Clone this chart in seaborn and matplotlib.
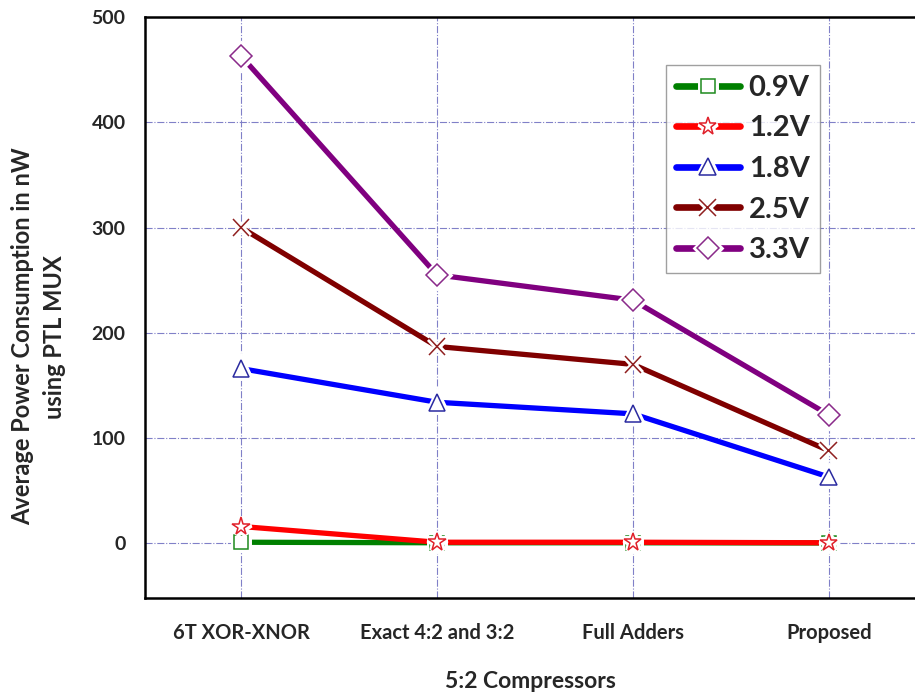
import numpy as np
import pandas as pd
import matplotlib
matplotlib.use('Agg')
import matplotlib.pyplot as plt
import matplotlib.patheffects as pe
from matplotlib.lines import Line2D
from matplotlib.ticker import MultipleLocator
import seaborn as sns

# data
designs = ['6T XOR-XNOR', 'Exact 4:2 and 3:2', 'Full Adders', 'Proposed']
voltages = ['0.9V', '1.2V', '1.8V', '2.5V', '3.3V']
p_09 = [1.0, 0.5, 0.5, 0.3]
p_12 = [16.0, 1.0, 1.0, 0.5]
p_18 = [166.0, 134.0, 123.0, 63.0]
p_25 = [300.0, 187.0, 170.0, 88.0]
p_33 = [463.0, 255.0, 231.0, 122.0]

colors = ['#008000', '#ff0000', '#0000ff', '#800000', '#800080']
edge_colors = ['#1e8a1e', '#e0202a', '#2a2aa0', '#902020', '#8a2a8a']
markers = ['s', '*', '^', 'x', 'D']
msizes = [10, 13, 12, 12, 11]

values = [p_09, p_12, p_18, p_25, p_33]
df = pd.DataFrame({
    'pos': np.tile(np.arange(len(designs)), len(voltages)),
    'power': np.concatenate(values),
    'voltage': np.repeat(voltages, len(designs)),
})

sns.set_style('white')
plt.rcParams['font.family'] = ['Lato', 'DejaVu Sans']

fig = plt.figure(figsize=(9.15, 6.97), dpi=100)
ax = fig.add_axes([0.1585, 0.142, 0.8415, 0.8336])

sns.lineplot(data=df, x='pos', y='power', hue='voltage', hue_order=voltages,
             palette=colors, linewidth=3.8, legend=False, sort=False, ax=ax,
             solid_capstyle='round')

# hollow markers with a white halo so the line stops short of each marker
halo = [pe.withStroke(linewidth=5, foreground='white')]
for i, v in enumerate(voltages):
    sub = df[df['voltage'] == v]
    ax.plot(sub['pos'], sub['power'], linestyle='none', marker=markers[i],
            markersize=msizes[i], markerfacecolor='white',
            markeredgecolor=edge_colors[i], markeredgewidth=1.1,
            path_effects=halo, zorder=5)

ax.set_xlim(-0.49, 3.44)
ax.set_ylim(-52, 500)
ax.set_xticks(np.arange(len(designs)))
ax.set_xticklabels(designs)
ax.xaxis.set_minor_locator(MultipleLocator(0.5))
ax.yaxis.set_major_locator(MultipleLocator(100))
ax.yaxis.set_minor_locator(MultipleLocator(50))

ax.grid(True, which='major', linestyle='-.', linewidth=0.8, color='#8080c8')
for sp in ['left', 'bottom', 'top']:
    ax.spines[sp].set_linewidth(1.8)
    ax.spines[sp].set_color('black')
ax.spines['right'].set_visible(False)

ax.tick_params(axis='both', which='major', direction='out', length=8,
               width=1.6, color='black', labelsize=14, pad=6)
ax.tick_params(axis='both', which='minor', direction='out', length=5,
               width=1.4, color='black')
ax.tick_params(axis='x', which='major', pad=10, labelsize=14.5)
for lbl in ax.get_xticklabels() + ax.get_yticklabels():
    lbl.set_fontweight('bold')

ax.set_xlabel('5:2 Compressors', fontsize=16.5, fontweight='bold', labelpad=20)
ax.set_ylabel('Average Power Consumption in nW\nusing PTL MUX', fontsize=17,
              fontweight='bold', linespacing=1.45)
ax.yaxis.set_label_coords(-0.103, 0.45)

handles = []
for i, v in enumerate(voltages):
    handles.append(Line2D([], [], color=colors[i], linewidth=4.8,
                          solid_capstyle='round', marker=markers[i],
                          markersize=msizes[i], markerfacecolor='white',
                          markeredgecolor=edge_colors[i], markeredgewidth=1.1,
                          path_effects=halo))
leg = ax.legend(handles, voltages, loc='upper left', bbox_to_anchor=(0.676, 0.918),
                frameon=True, fancybox=False, edgecolor='#888888',
                prop={'weight': 'bold', 'size': 21}, handlelength=2.2,
                handletextpad=0.3, labelspacing=0.5, borderpad=0.35,
                borderaxespad=0)
leg.get_frame().set_linewidth(1.0)

fig.savefig('out.png', dpi=100)
